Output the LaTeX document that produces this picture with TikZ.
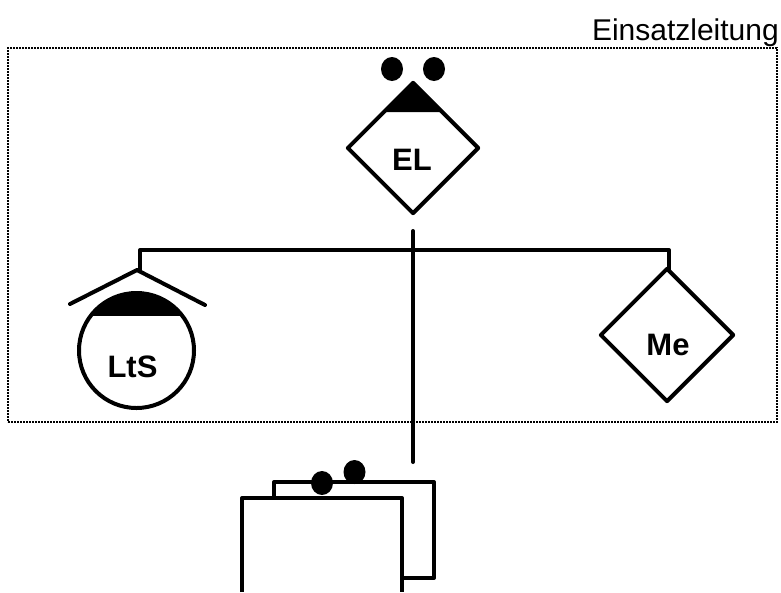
\documentclass[tikz,border=0pt]{standalone}
\usepackage{fontspec}
\setmainfont{Liberation Sans}
\usetikzlibrary{shapes.geometric}
\tikzset{
  ln/.style={line width=4pt,line cap=round,line join=round},
  dia/.style={diamond,draw,ln,aspect=1,inner sep=0pt,minimum width=#1,minimum height=#1},
  lab/.style={font=\fontsize{31}{33}\selectfont\bfseries,inner sep=0pt},
  dot/.style={ellipse,fill=black,draw=none,inner sep=0pt,minimum width=#1,minimum height=24pt},
  pane/.style={draw=black,line width=2pt,dash pattern=on 2pt off 1pt},
}
\begin{document}
\begin{tikzpicture}[x=1pt,y=-1pt]
\useasboundingbox (0,0) rectangle (781,592);
% frame
\node[pane,rectangle,inner sep=0pt,minimum width=769pt,minimum height=374pt] (frame) at (392.5,235) {};
\node[inner sep=0pt,anchor=base east,font=\fontsize{30}{32}\selectfont] (title) at (779,40) {Einsatzleitung};
% EL
\fill (413,81) -- (385,112) -- (441,112) -- cycle;
\node[dia=132pt] (el) at (413,148) {};
\node[lab] (ellab) at (412,159.5) {EL};
\node[dot=22pt] (eld1) at (392,69) {};
\node[dot=22pt] (eld2) at (434,69) {};
% LtS
\begin{scope}
\clip (70,293) rectangle (205,315);
\fill (136.5,350.5) circle[radius=57.5];
\end{scope}
\node[circle,draw,ln,inner sep=0pt,minimum size=115pt] (lts) at (136.5,350.5) {};
\node[lab] (ltslab) at (132.5,367) {LtS};
\coordinate (apex) at (137,270);
\coordinate (rl) at (70,304);
\coordinate (rr) at (205,305);
\draw[ln] (rl) -- (apex) -- (rr);
% Me
\node[dia=134pt] (me) at (667,335) {};
\node[lab] (melab) at (668,345) {Me};
% connectors
\coordinate (hl) at (140,250);
\coordinate (hr) at (669,250);
\coordinate (vt) at (413,231);
\coordinate (vb) at (413,462);
\coordinate (dl) at (140,270);
\coordinate (dr) at (669,270);
\draw[ln] (dl) -- (hl) -- (hr) -- (dr);
\draw[ln] (vt) -- (vb);
% boxes
\coordinate (b1) at (274,498);
\coordinate (b2) at (274,482);
\coordinate (b3) at (434,482);
\coordinate (b4) at (434,578);
\coordinate (b5) at (402,578);
\draw[ln] (b1) -- (b2) -- (b3) -- (b4) -- (b5);
\node[dot=22pt] (bd2) at (354.5,472) {};
\coordinate (f1) at (242,592);
\coordinate (f2) at (242,498);
\coordinate (f3) at (402,498);
\coordinate (f4) at (402,592);
\fill[white] (f1) -- (f2) -- (f3) -- (f4) -- cycle;
\draw[ln,line cap=butt] (f1) -- (f2) -- (f3) -- (f4);
\node[dot=22pt] (bd1) at (322,483) {};
\end{tikzpicture}
\end{document}
